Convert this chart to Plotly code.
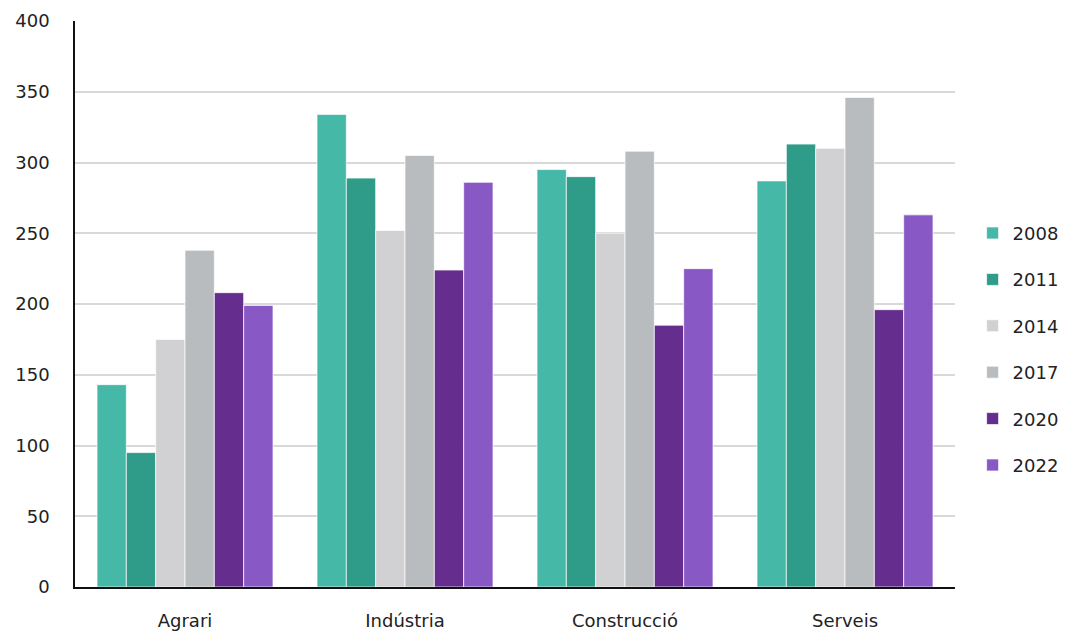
import plotly.graph_objects as go

categories = ["Agrari", "Indústria", "Construcció", "Serveis"]
years = ["2008", "2011", "2014", "2017", "2020", "2022"]
v2008 = [143, 334, 295, 287]
v2011 = [95, 289, 290, 313]
v2014 = [175, 252, 250, 310]
v2017 = [238, 305, 308, 346]
v2020 = [208, 224, 185, 196]
v2022 = [199, 286, 225, 263]
series = [v2008, v2011, v2014, v2017, v2020, v2022]
colors = ["#46b8a7", "#2e9c89", "#d1d1d3", "#b9bcbf", "#652d8e", "#8859c5"]

fig = go.Figure()
for y, vals, c in zip(years, series, colors):
    fig.add_trace(go.Bar(
        x=categories, y=vals, name=y, legendgroup=y,
        marker=dict(color=c, line=dict(color="rgba(255,255,255,0.7)", width=1)),
    ))

font_family = "DejaVu Sans"
fig.update_layout(
    width=1063, height=624,
    margin=dict(l=67, r=116, t=13, b=45, autoexpand=False),
    paper_bgcolor="white", plot_bgcolor="white",
    barmode="group", bargap=0.2, bargroupgap=0,
    font=dict(family=font_family, size=18, color="#222222"),
    legend=dict(x=1.02, y=0.42, xanchor="left", yanchor="middle",
                traceorder="grouped", tracegroupgap=20,
                itemwidth=30,
                font=dict(size=18, color="#222222")),
    showlegend=True,
)
fig.update_yaxes(range=[0, 400], dtick=50, showgrid=True, gridcolor="#d9d9d9", gridwidth=1.5,
                 showline=True, linecolor="#111111", linewidth=1.5, zeroline=False,
                 ticks="", ticklabelstandoff=20, tickfont=dict(size=18), automargin=False)
fig.update_xaxes(showline=True, linecolor="#111111", linewidth=1.5, ticks="",
                 ticklabelstandoff=17, tickfont=dict(size=18), automargin=False)

fig.write_html("out.html")
